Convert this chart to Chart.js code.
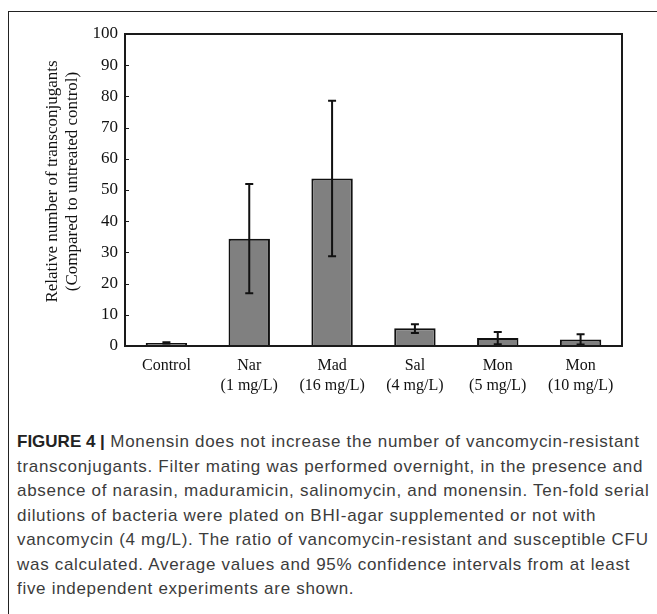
<!DOCTYPE html>
<html>
<head>
<meta charset="utf-8">
<script src="https://cdn.jsdelivr.net/npm/chart.js@4.4.0/dist/chart.umd.min.js"></script>
<style>
  body { margin: 0; background: #fff; width: 657px; height: 614px; overflow: hidden; position: relative; }
  #frame { position: absolute; left: 8px; top: 11px; width: 700px; height: 700px; border-left: 1px solid #222; border-top: 1px solid #222; }
  #wrap { position: absolute; left: 0; top: 0; width: 657px; height: 410px; }
  #caption { position: absolute; left: 17px; top: 430px; font-family: "Liberation Sans", Arial, sans-serif; font-size: 17px; letter-spacing: 0.7px; line-height: 24.5px; color: #3c3c3c; white-space: nowrap; }
  #caption b { color: #222; letter-spacing: 0; }
</style>
</head>
<body>
<div id="frame"></div>
<div id="wrap"><canvas id="conjChart"></canvas></div>
<div id="caption">
  <b>FIGURE 4 |</b> Monensin does not increase the number of vancomycin-resistant<br>
  transconjugants. Filter mating was performed overnight, in the presence and<br>
  absence of narasin, maduramicin, salinomycin, and monensin. Ten-fold serial<br>
  dilutions of bacteria were plated on BHI-agar supplemented or not with<br>
  vancomycin (4 mg/L). The ratio of vancomycin-resistant and susceptible CFU<br>
  was calculated. Average values and 95% confidence intervals from at least<br>
  five independent experiments are shown.
</div>
<script>
// treatments and values
const categories = [['Control'], ['Nar', '(1 mg/L)'], ['Mad', '(16 mg/L)'], ['Sal', '(4 mg/L)'], ['Mon', '(5 mg/L)'], ['Mon', '(10 mg/L)']];
const means = [1.0, 34.4, 53.7, 5.7, 2.6, 2.1];
const ciLow = [0.8, 16.9, 28.8, 4.2, 0.6, 0.5];
const ciHigh = [1.2, 51.9, 78.6, 7.0, 4.5, 3.8];
const yTicks = [0, 10, 20, 30, 40, 50, 60, 70, 80, 90, 100];

const serif = '"Liberation Serif", "Times New Roman", serif';

// 95% CI whiskers
const errorBars = {
  id: 'errorBars',
  afterDatasetsDraw(chart) {
    const ctx = chart.ctx;
    const y = chart.scales.y;
    const meta = chart.getDatasetMeta(0);
    ctx.save();
    ctx.strokeStyle = '#111';
    ctx.lineWidth = 2;
    meta.data.forEach((bar, i) => {
      const yl = y.getPixelForValue(ciLow[i]);
      const yh = y.getPixelForValue(ciHigh[i]);
      ctx.beginPath();
      ctx.moveTo(bar.x, yl); ctx.lineTo(bar.x, yh);
      ctx.moveTo(bar.x - 4, yl); ctx.lineTo(bar.x + 4, yl);
      ctx.moveTo(bar.x - 4, yh); ctx.lineTo(bar.x + 4, yh);
      ctx.stroke();
    });
    ctx.restore();
  }
};

// box round the plot area, with small inward ticks on the y axis
const plotBox = {
  id: 'plotBox',
  afterDraw(chart) {
    const { ctx, chartArea: a } = chart;
    const y = chart.scales.y;
    ctx.save();
    ctx.strokeStyle = '#1a1a1a';
    ctx.lineWidth = 2;
    ctx.strokeRect(a.left, a.top, a.right - a.left, a.bottom - a.top);
    ctx.lineWidth = 1;
    ctx.beginPath();
    yTicks.forEach(v => {
      const py = Math.round(y.getPixelForValue(v)) + 0.5;
      ctx.moveTo(a.left, py); ctx.lineTo(a.left + 4, py);
    });
    ctx.stroke();
    ctx.restore();
  }
};

new Chart(document.getElementById('conjChart').getContext('2d'), {
  type: 'bar',
  data: {
    labels: categories,
    datasets: [{
      data: means,
      backgroundColor: '#808080',
      borderColor: '#111',
      borderWidth: 2,
      categoryPercentage: 1,
      barPercentage: 0.5
    }]
  },
  options: {
    responsive: true,
    maintainAspectRatio: false,
    animation: false,
    layout: { padding: { top: 34, right: 35, left: 0, bottom: 0 } },
    plugins: {
      legend: { display: false },
      tooltip: { enabled: false }
    },
    scales: {
      y: {
        min: 0,
        max: 100,
        afterBuildTicks: (s) => { s.ticks = yTicks.map(v => ({ value: v })); },
        afterFit: (s) => { s.width = 125; },
        grid: { display: false, drawTicks: false },
        border: { display: false },
        ticks: { color: '#111', padding: 7, font: { family: serif, size: 17 } },
        title: {
          display: true,
          // leading spaces nudge the title up a little, as in the original
          text: ['    Relative number of transconjugants', '    (Compared to untreated control)'],
          color: '#111',
          padding: { top: 43, bottom: 0 },
          font: { family: serif, size: 17, lineHeight: 1.15 }
        }
      },
      x: {
        afterFit: (s) => { s.height = 64; },
        grid: { display: false, drawTicks: false },
        border: { display: false },
        ticks: { color: '#111', padding: 10, autoSkip: false, maxRotation: 0, font: { family: serif, size: 16, lineHeight: 1.25 } }
      }
    }
  },
  plugins: [errorBars, plotBox]
});
</script>
</body>
</html>
